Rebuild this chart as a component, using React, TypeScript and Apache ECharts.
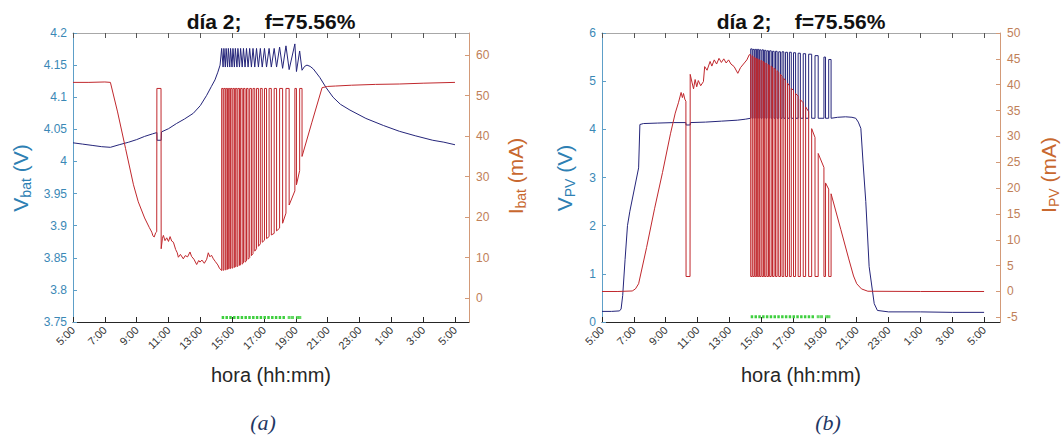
import React, { useEffect, useRef } from "react";
import * as echarts from "echarts";

// x values are hours after 5:00 (day 2)
const X_TICKS = [0, 2, 4, 6, 8, 10, 12, 14, 16, 18, 20, 22, 24];
const IBAT_TICKS = [0, 10, 20, 30, 40, 50, 60];
const IPV_TICKS = [-5, 0, 5, 10, 15, 20, 25, 30, 35, 40, 45, 50];

const TITLE = "día 2;    f=75.56%";
const X_NAME = "hora (hh:mm)";

// charge-controller switching events [on, off] (h after 5:00)
const PULSES: [number, number][] = [
  [9.34, 9.43], [9.48, 9.57], [9.62, 9.71], [9.76, 9.85], [9.9, 9.99], [10.05, 10.14],
  [10.2, 10.3], [10.36, 10.46], [10.53, 10.63], [10.71, 10.81], [10.9, 11.0], [11.1, 11.21],
  [11.31, 11.42], [11.53, 11.65], [11.77, 11.89], [12.03, 12.16], [12.32, 12.46], [12.64, 12.79],
  [12.98, 13.17], [13.38, 13.58], [13.94, 14.04], [14.24, 14.39],
];

// ---- panel (a): battery voltage (V) ----
const VBAT_PRE: [number, number][] = [
  [0, 4.029], [0.6, 4.027], [1.2, 4.025], [1.8, 4.023], [2.35, 4.022], [2.9, 4.026], [3.5, 4.03],
  [4.0, 4.034], [4.5, 4.039], [5.0, 4.043], [5.27, 4.045], [5.28, 4.033], [5.54, 4.033], [5.56, 4.046],
  [6.0, 4.051], [6.5, 4.059], [7.0, 4.066], [7.56, 4.075], [8.0, 4.087], [8.4, 4.103], [8.7, 4.117],
  [8.92, 4.127], [9.1, 4.139], [9.24, 4.15],
];
const VBAT_ZIG: [number, number][] = [
  [4.176, 4.147], [4.176, 4.147], [4.176, 4.147], [4.176, 4.147], [4.176, 4.147], [4.176, 4.147],
  [4.176, 4.147], [4.176, 4.147], [4.176, 4.147], [4.176, 4.147], [4.176, 4.147], [4.176, 4.147],
  [4.176, 4.147], [4.176, 4.147], [4.176, 4.147], [4.176, 4.147], [4.176, 4.147], [4.176, 4.147],
  [4.178, 4.145], [4.18, 4.143], [4.183, 4.14], [4.172, 4.142],
];
const VBAT_POST: [number, number][] = [
  [14.55, 4.148], [14.7, 4.15], [14.9, 4.148], [15.1, 4.144], [15.5, 4.131], [15.9, 4.115],
  [16.34, 4.1], [16.8, 4.089], [17.4, 4.08], [18.4, 4.067], [19.5, 4.056], [20.5, 4.047],
  [21.5, 4.04], [22.6, 4.033], [23.3, 4.03], [24, 4.026],
];

// ---- panel (a): battery current (mA) ----
const IBAT_PRE: [number, number][] = [
  [0, 53.3], [1.0, 53.3], [2.0, 53.4], [2.35, 53.3], [2.8, 46], [3.3, 37], [3.8, 28], [4.1, 23.8],
  [4.5, 19.8], [4.8, 17.4], [4.95, 16.3], [5.02, 15.4], [5.1, 15.1], [5.2, 16.2], [5.26, 16.4],
  [5.27, 51.8], [5.53, 51.8], [5.54, 12.2], [5.62, 14.8], [5.68, 15.5], [5.78, 14.2], [5.89, 14.9],
  [6.0, 14.0], [6.1, 15.2], [6.2, 14.1], [6.31, 13.8], [6.45, 12.0], [6.55, 11.2], [6.62, 10.1],
  [6.75, 10.8], [6.93, 9.7], [7.05, 10.5], [7.2, 10.2], [7.35, 11.4], [7.45, 10.3], [7.6, 9.6],
  [7.77, 8.3], [7.9, 9.3], [7.98, 8.9], [8.1, 9.4], [8.25, 8.6], [8.4, 9.6], [8.5, 11.2], [8.6, 10.2],
  [8.7, 10.6], [8.82, 9.7], [8.95, 9.0], [9.1, 8.2], [9.2, 7.4],
];
const IBAT_TOP = 51.8;
const IBAT_ENV: [number, number][] = [
  [6.8, 6.9], [6.9, 7.0], [7.0, 7.1], [7.2, 7.3], [7.3, 7.4], [7.5, 7.6], [7.7, 7.8], [7.9, 8.1],
  [8.2, 8.4], [8.7, 8.9], [9.2, 9.6], [10.0, 10.5], [11.0, 11.6], [12.2, 12.8], [13.4, 13.8],
  [14.3, 14.7], [15.2, 15.6], [16.0, 16.6], [17.3, 18.5], [21.0, 23.0], [26.5, 28.0], [31.5, 35.0],
];
const IBAT_POST: [number, number][] = [
  [15.0, 43.3], [15.65, 52.0], [16.0, 52.3], [16.5, 52.4], [17.5, 52.6], [19, 52.8], [20.5, 52.9],
  [22, 53.1], [24, 53.3],
];

// ---- panel (b): PV voltage (V) ----
const VPV_PRE: [number, number][] = [
  [0, 0.22], [0.6, 0.22], [1.1, 0.23], [1.2, 0.27], [1.3, 0.55], [1.45, 1.3], [1.6, 2.0], [1.75, 2.3],
  [2.3, 3.2], [2.38, 4.1], [2.6, 4.12], [3.5, 4.13], [4.5, 4.14], [5.27, 4.14], [5.28, 4.09],
  [5.54, 4.09], [5.55, 4.14], [6.5, 4.15], [7.5, 4.17], [8.5, 4.19], [9.0, 4.21],
];
const VPV_GAP = 4.23;
const VPV_TOP = [
  5.67, 5.66, 5.66, 5.66, 5.65, 5.65, 5.64, 5.63, 5.63, 5.62, 5.62, 5.61, 5.61, 5.6, 5.6, 5.59,
  5.58, 5.57, 5.56, 5.53, 5.5, 5.45,
];
const VPV_POST: [number, number][] = [
  [14.8, 4.25], [15.3, 4.26], [15.7, 4.25], [15.94, 4.23], [16.1, 4.15], [16.26, 4.02], [16.4, 3.3],
  [16.57, 2.5], [16.78, 1.15], [17.1, 0.38], [17.3, 0.24], [18, 0.21], [20, 0.21], [22, 0.2], [24, 0.2],
];

// ---- panel (b): PV current (mA) ----
const IPV_PRE: [number, number][] = [
  [0, 0], [1.0, 0], [1.9, 0.1], [2.1, 0.5], [2.3, 1.5], [2.8, 8.5], [3.3, 16], [3.8, 23], [4.3, 30.5],
  [4.6, 34.5], [4.8, 36.5], [4.97, 38.5], [5.05, 37.5], [5.12, 38.3], [5.2, 37.2], [5.27, 36.8],
  [5.28, 2.9], [5.53, 2.9], [5.54, 42.0], [5.65, 40.5], [5.75, 39.2], [5.85, 41], [5.95, 39.6],
  [6.05, 40.8], [6.2, 39.8], [6.37, 40.6], [6.45, 43.5], [6.6, 42.8], [6.79, 44.5], [6.9, 43.6],
  [7.05, 44.8], [7.2, 44.0], [7.35, 45.1], [7.5, 44.3], [7.65, 45.0], [7.8, 44.2], [7.95, 44.8],
  [8.1, 44.0], [8.3, 43.5], [8.53, 42.2], [8.7, 43.3], [8.94, 44.2], [9.1, 44.8], [9.25, 45.8],
];
const IPV_LOW = 2.9;
const IPV_ENV: [number, number][] = [
  [45.8, 45.6], [45.5, 45.3], [45.2, 45.1], [45.0, 44.9], [44.8, 44.7], [44.6, 44.5], [44.3, 44.2],
  [44.0, 43.9], [43.7, 43.6], [43.4, 43.2], [43.0, 42.7], [42.4, 42.0], [41.6, 41.2], [40.8, 40.3],
  [39.8, 39.3], [38.9, 38.3], [37.8, 37.1], [36.5, 35.7], [34.8, 31.5], [29.8, 26.7], [24.0, 21.0],
  [19.8, 18.9],
];
const IPV_POST: [number, number][] = [
  [15.0, 12.0], [15.5, 6.3], [15.8, 3.0], [16.0, 1.5], [16.3, 0.5], [16.7, 0.05], [20, 0], [24, 0],
];

// green marker (switching indicator)
const GREEN_RUN: [number, number] = [9.34, 13.34];
const GREEN_MARKS = [13.58, 13.79, 14.1, 14.25];
const GREEN_LEVEL_A = 3.757;
const GREEN_LEVEL_B = 0.11;

const FONT = "Arial, 'Liberation Sans', Helvetica, sans-serif";
const C_BLUE = "#25257a";
const C_RED = "#c0282d";
const C_LEFT = "#3a88b6";
const C_LEFT_T = "#2e80b3";
const C_RIGHT = "#c08058";
const C_RIGHT_T = "#c8682f";
const C_GREEN = "#3fcf3f";

function buildVbat() {
  const d: number[][] = VBAT_PRE.map((p) => [...p]);
  PULSES.forEach(([on, off], i) => {
    d.push([on, VBAT_ZIG[i][0]], [off, VBAT_ZIG[i][1]]);
  });
  VBAT_POST.forEach((p) => d.push([...p]));
  return d;
}
function buildIbat() {
  const d: number[][] = IBAT_PRE.map((p) => [...p]);
  PULSES.forEach(([on, off], i) => {
    d.push([on, IBAT_ENV[i][0]], [on, IBAT_TOP], [off, IBAT_TOP], [off, IBAT_ENV[i][1]]);
  });
  IBAT_POST.forEach((p) => d.push([...p]));
  return d;
}
function buildVpv() {
  const d: number[][] = VPV_PRE.map((p) => [...p]);
  PULSES.forEach(([on, off], i) => {
    d.push([on, VPV_GAP], [on, VPV_TOP[i]], [off, VPV_TOP[i]], [off, VPV_GAP]);
  });
  VPV_POST.forEach((p) => d.push([...p]));
  return d;
}
function buildIpv() {
  const d: number[][] = IPV_PRE.map((p) => [...p]);
  PULSES.forEach(([on, off], i) => {
    d.push([on, IPV_ENV[i][0]], [on, IPV_LOW], [off, IPV_LOW], [off, IPV_ENV[i][1]]);
  });
  IPV_POST.forEach((p) => d.push([...p]));
  return d;
}

const hourLabel = (v: number) => `${(Math.round(v) + 5) % 24}:00`;

function xAxes(grid: number, max: number) {
  return [
    {
      gridIndex: grid, type: "value", min: 0, max, position: "bottom",
      axisLine: { show: true, onZero: false, lineStyle: { color: "#262626", width: 1 } },
      axisTick: { show: true, inside: true, length: 5, customValues: X_TICKS, lineStyle: { color: "#262626" } },
      axisLabel: {
        customValues: X_TICKS, rotate: 45, fontSize: 11, color: "#333", margin: 6,
        fontFamily: FONT, formatter: hourLabel,
      },
      splitLine: { show: false },
    },
    {
      gridIndex: grid, type: "value", min: 0, max, position: "top",
      axisLine: { show: true, onZero: false, lineStyle: { color: "#a8a8a8", width: 1 } },
      axisTick: { show: true, inside: true, length: 5, customValues: X_TICKS, lineStyle: { color: "#555" } },
      axisLabel: { show: false, customValues: X_TICKS },
      splitLine: { show: false },
    },
  ];
}

function leftAxis(grid: number, min: number, max: number, interval: number) {
  return {
    gridIndex: grid, type: "value", min, max, interval, position: "left",
    axisLine: { show: true, onZero: false, lineStyle: { color: "#5d9fc8", width: 1 } },
    axisTick: { show: true, inside: true, length: 4, lineStyle: { color: "#5d9fc8" } },
    axisLabel: { color: C_LEFT, fontSize: 12, margin: 6, fontFamily: FONT },
    splitLine: { show: false },
  };
}
function rightAxis(grid: number, min: number, max: number, ticks: number[]) {
  return {
    gridIndex: grid, type: "value", min, max, position: "right",
    axisLine: { show: true, onZero: false, lineStyle: { color: "#d39a78", width: 1 } },
    axisTick: { show: true, inside: true, length: 4, customValues: ticks, lineStyle: { color: "#d39a78" } },
    axisLabel: { customValues: ticks, color: C_RIGHT, fontSize: 12, margin: 7, fontFamily: FONT },
    splitLine: { show: false },
  };
}

function line(name: string, xi: number, yi: number, data: number[][], color: string, z = 2) {
  return {
    name, type: "line", xAxisIndex: xi, yAxisIndex: yi, data, showSymbol: false, symbol: "none",
    lineStyle: { color, width: 1 }, itemStyle: { color }, z, clip: true,
  };
}
function greenRun(xi: number, yi: number, level: number) {
  return {
    type: "line", xAxisIndex: xi, yAxisIndex: yi, showSymbol: false, symbol: "none",
    data: [[GREEN_RUN[0], level], [GREEN_RUN[1], level]],
    lineStyle: { color: C_GREEN, width: 3, type: [2.5, 1.3] }, z: 3,
  };
}
function greenMarks(xi: number, yi: number, level: number) {
  return {
    type: "scatter", xAxisIndex: xi, yAxisIndex: yi, symbol: "rect", symbolSize: [3, 3],
    data: GREEN_MARKS.map((t) => [t, level]), itemStyle: { color: C_GREEN }, z: 3,
  };
}

function yTitle(x: number, y: number, main: string, sub: string, unit: string, color: string) {
  return {
    type: "text", x, y, rotation: Math.PI / 2,
    style: {
      text: `{m|${main}}{s|${sub}}{m| ${unit}}`,
      align: "center", verticalAlign: "middle",
      rich: {
        m: { fontSize: 21, fill: color, fontFamily: FONT, verticalAlign: "middle" },
        s: { fontSize: 14, fill: color, fontFamily: FONT, padding: [11, 0, 0, 0], verticalAlign: "middle" },
      },
    },
  };
}
function plainText(x: number, y: number, text: string, extra: any) {
  return {
    type: "text", x, y,
    style: { text, align: "center", verticalAlign: "middle", fontFamily: FONT, ...extra },
  };
}

export default function App() {
  const ref = useRef<HTMLDivElement>(null);
  useEffect(() => {
    if (!ref.current) return;
    const chart = echarts.init(ref.current, null, { renderer: "svg" });
    const option: any = {
      animation: false,
      backgroundColor: "#ffffff",
      textStyle: { fontFamily: FONT },
      grid: [
        { left: 73, top: 33, width: 396, height: 289 },
        { left: 602, top: 33, width: 398, height: 289 },
      ],
      xAxis: [...xAxes(0, 24.88), ...xAxes(1, 25.0)],
      yAxis: [
        leftAxis(0, 3.75, 4.2, 0.05),
        rightAxis(0, -5.9, 65.5, IBAT_TICKS),
        leftAxis(1, 0, 6, 1),
        rightAxis(1, -5.9, 50, IPV_TICKS),
      ],
      series: [
        line("Vbat", 0, 0, buildVbat(), C_BLUE, 2),
        line("Ibat", 0, 1, buildIbat(), C_RED, 3),
        greenRun(0, 0, GREEN_LEVEL_A),
        greenMarks(0, 0, GREEN_LEVEL_A),
        line("Vpv", 2, 2, buildVpv(), C_BLUE, 2),
        line("Ipv", 2, 3, buildIpv(), C_RED, 3),
        greenRun(2, 2, GREEN_LEVEL_B),
        greenMarks(2, 2, GREEN_LEVEL_B),
      ],
      graphic: [
        plainText(271, 21, TITLE, { fontSize: 21, fontWeight: "bold", fill: "#111" }),
        plainText(801, 21, TITLE, { fontSize: 21, fontWeight: "bold", fill: "#111" }),
        plainText(271, 375, X_NAME, { fontSize: 20, fill: "#262626" }),
        plainText(801, 375, X_NAME, { fontSize: 20, fill: "#262626" }),
        plainText(263, 422, "(a)", { fontSize: 22, fontStyle: "italic", fontFamily: "'Liberation Serif', 'Times New Roman', serif", fill: "#1f3864" }),
        plainText(828, 422, "(b)", { fontSize: 22, fontStyle: "italic", fontFamily: "'Liberation Serif', 'Times New Roman', serif", fill: "#1f3864" }),
        yTitle(20, 178, "V", "bat", "(V)", C_LEFT_T),
        yTitle(515, 176, "I", "bat", "(mA)", C_RIGHT_T),
        yTitle(564, 178, "V", "PV", "(V)", C_LEFT_T),
        yTitle(1048, 175, "I", "PV", "(mA)", C_RIGHT_T),
      ],
    };
    chart.setOption(option);
    return () => chart.dispose();
  }, []);
  return (
    <div
      ref={ref}
      style={{ position: "fixed", left: 0, top: 0, width: 1062, height: 437, background: "#fff" }}
    />
  );
}
